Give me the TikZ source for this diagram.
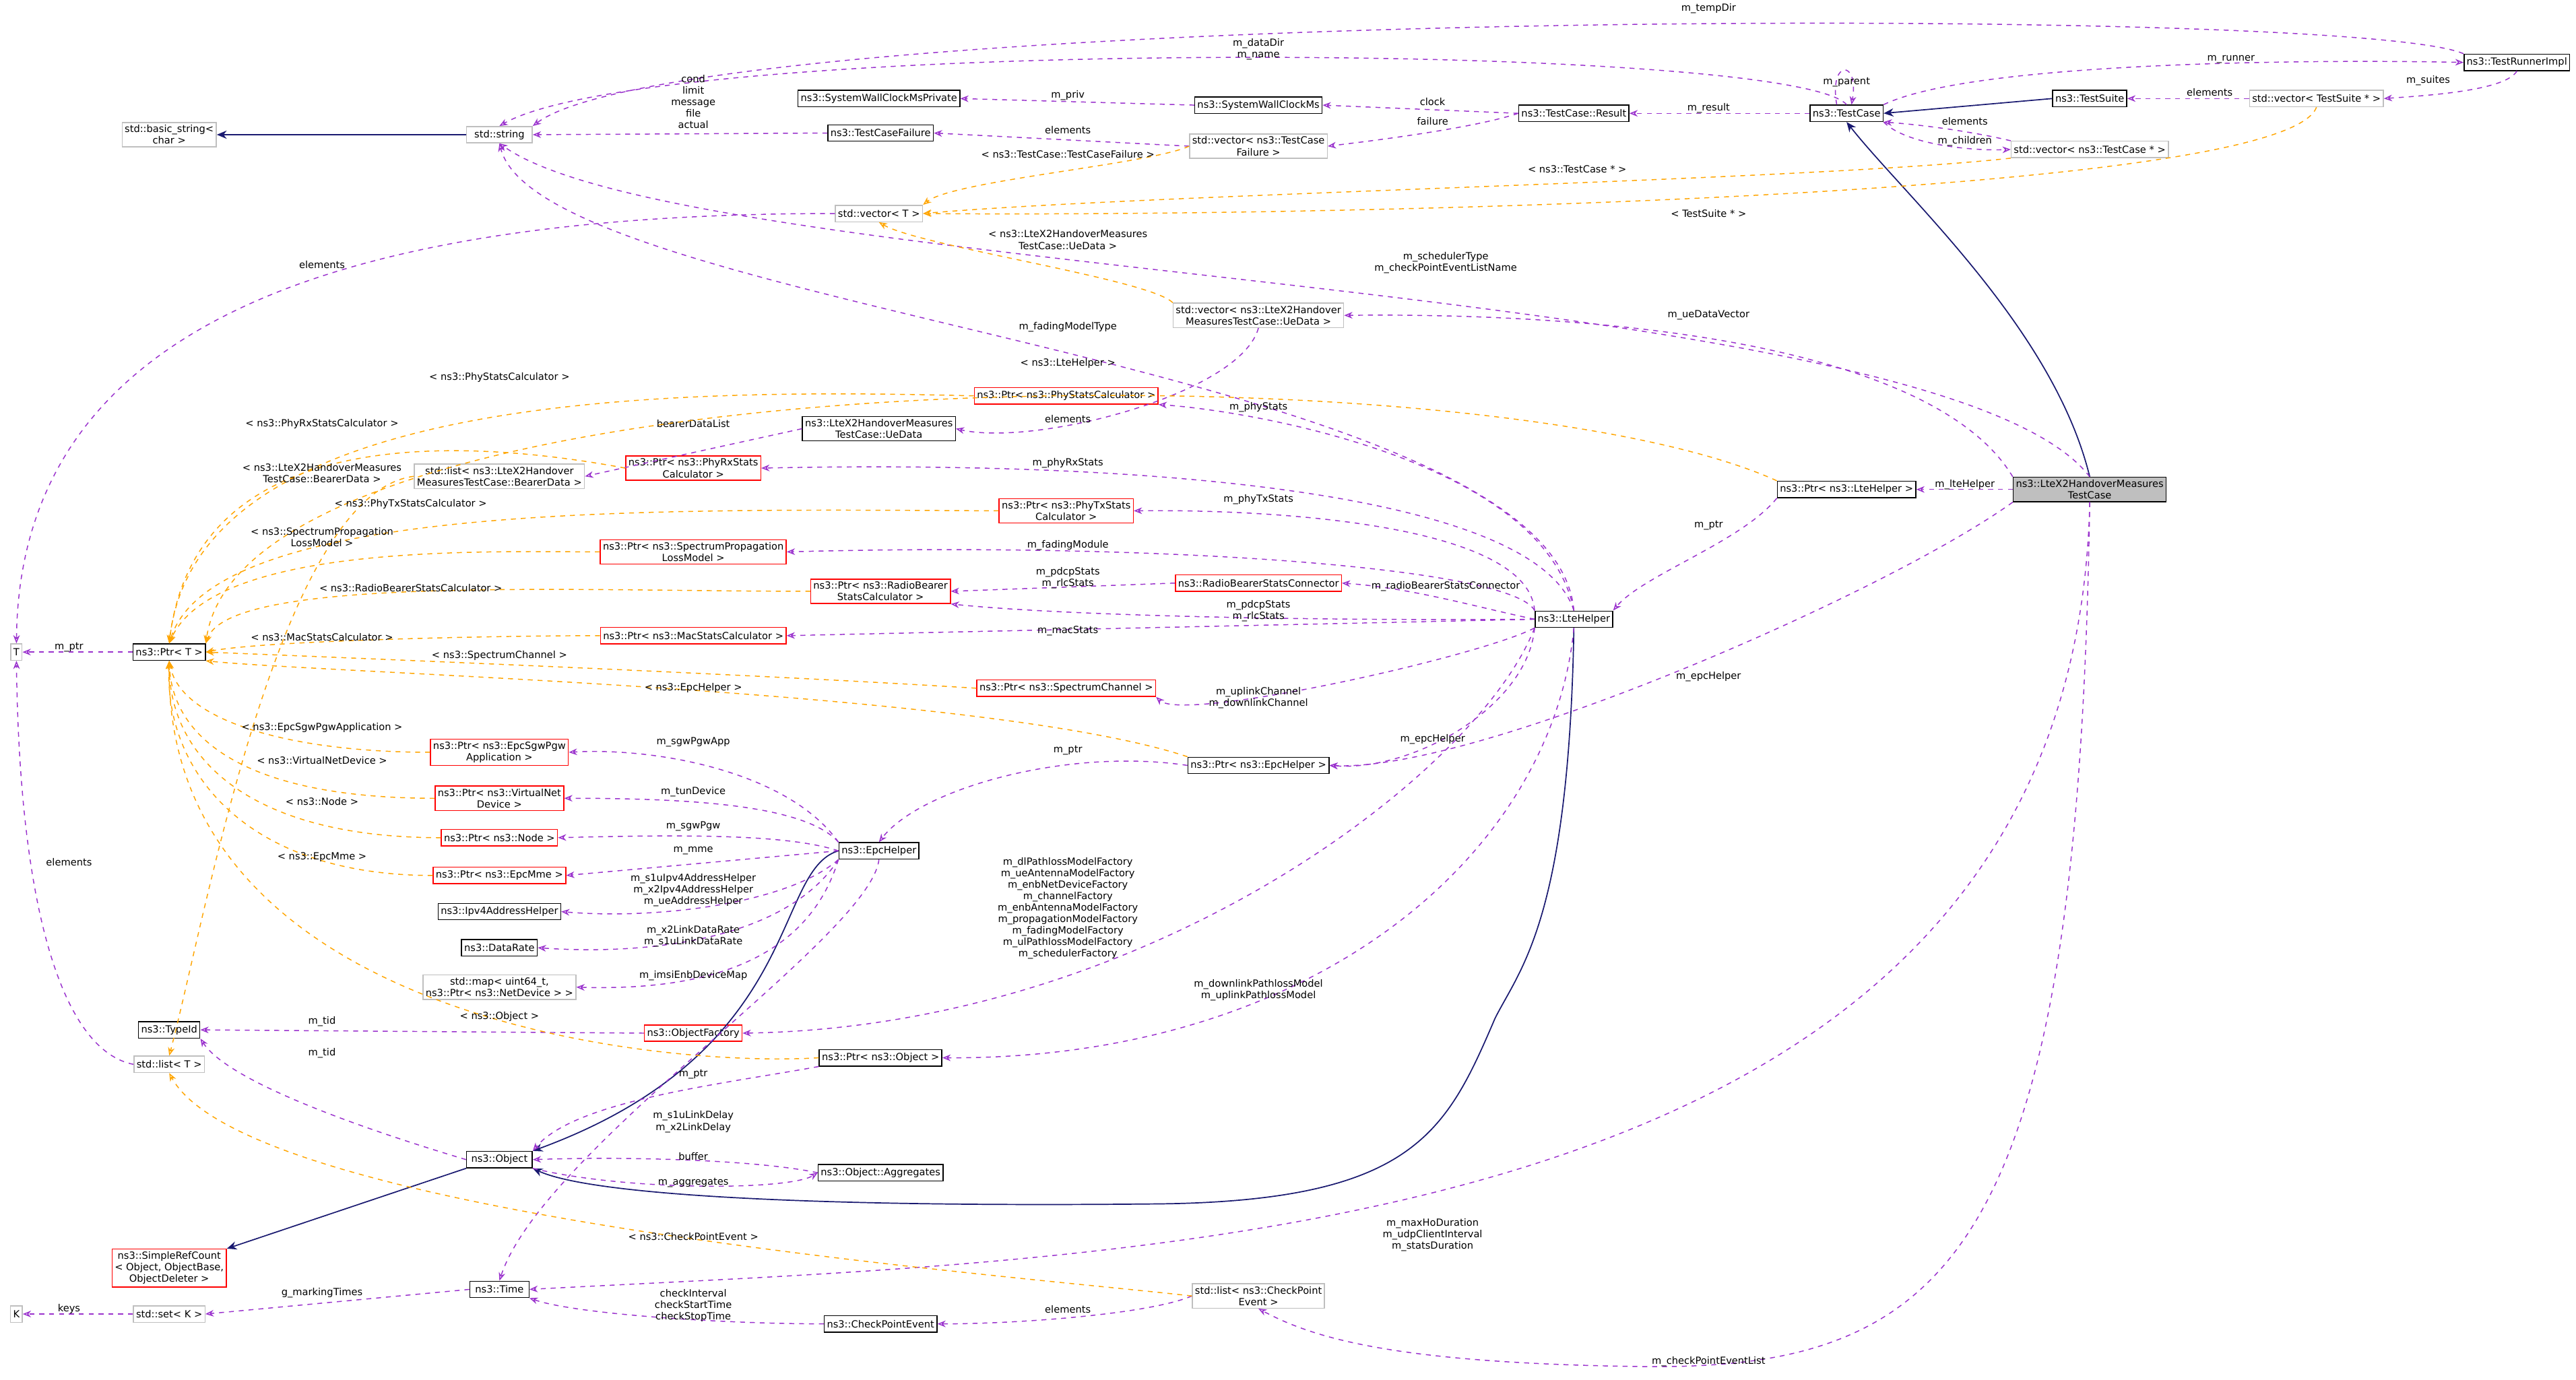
\documentclass[tikz,border=0pt]{standalone}
\usepackage{fontspec}
\setmainfont{DejaVu Sans}
\usetikzlibrary{arrows.meta}
\definecolor{pur}{HTML}{9A32CD}
\definecolor{org}{HTML}{FFA500}
\definecolor{nav}{HTML}{191970}
\definecolor{gry}{HTML}{BFBFBF}
\tikzset{
 base/.style={draw,rectangle,inner sep=1.6pt,minimum height=10pt,fill=white,align=center,font=\fontsize{6}{7}\selectfont,line width=0.6pt},
 blk/.style={base,draw=black},
 red/.style={base,draw=red},
 gr/.style={base,draw=gry},
 mem/.style={draw=pur,dashed,line width=0.6pt,-{Stealth[open,length=5pt,width=4pt]}},
 tpl/.style={draw=org,dashed,line width=0.6pt,-{Stealth[open,length=5pt,width=4pt]}},
 inh/.style={draw=nav,line width=0.7pt,-{Stealth[length=6pt,width=5pt]}},
 lbl/.style={align=center,inner sep=0pt,font=\fontsize{6}{7}\selectfont},
}
\begin{document}
\begin{tikzpicture}[x=1pt,y=-1pt]
\useasboundingbox[fill=white] (0,0) rectangle (1568,840);
% nodes
\node[base,fill=gry] (test) at (1272,298) {ns3::LteX2HandoverMeasures\\TestCase};
\node[blk] (tri) at (1532,38) {ns3::TestRunnerImpl};
\node[blk] (suite) at (1272,60) {ns3::TestSuite};
\node[gr] (vts) at (1410,60) {std::vector< TestSuite * >};
\node[blk] (tc) at (1124,69) {ns3::TestCase};
\node[gr] (vtc) at (1272,91) {std::vector< ns3::TestCase * >};
\node[blk] (res) at (958,69) {ns3::TestCase::Result};
\node[blk] (swc) at (766,64) {ns3::SystemWallClockMs};
\node[blk] (swcp) at (535,60) {ns3::SystemWallClockMsPrivate};
\node[gr] (vf) at (766,89) {std::vector< ns3::TestCase\\Failure >};
\node[blk] (tcf) at (536,81) {ns3::TestCaseFailure};
\node[gr,minimum width=40pt] (str) at (304,82) {std::string};
\node[gr] (bstr) at (103,82) {std::basic\_string<\\char >};
\node[gr] (vt) at (535,130) {std::vector< T >};
\node[gr] (vue) at (766,192) {std::vector< ns3::LteX2Handover\\MeasuresTestCase::UeData >};
\node[blk] (ue) at (535,261) {ns3::LteX2HandoverMeasures\\TestCase::UeData};
\node[gr] (lbd) at (304,290) {std::list< ns3::LteX2Handover\\MeasuresTestCase::BearerData >};
\node[red] (pps) at (649,241) {ns3::Ptr< ns3::PhyStatsCalculator >};
\node[red] (prx) at (422,285) {ns3::Ptr< ns3::PhyRxStats\\Calculator >};
\node[red] (ptx) at (649,311) {ns3::Ptr< ns3::PhyTxStats\\Calculator >};
\node[red] (psp) at (422,336) {ns3::Ptr< ns3::SpectrumPropagation\\LossModel >};
\node[red] (prb) at (536,360) {ns3::Ptr< ns3::RadioBearer\\StatsCalculator >};
\node[red] (rbsc) at (766,355) {ns3::RadioBearerStatsConnector};
\node[red] (pmac) at (422,387) {ns3::Ptr< ns3::MacStatsCalculator >};
\node[red] (psc) at (649,419) {ns3::Ptr< ns3::SpectrumChannel >};
\node[blk] (lte) at (958,377) {ns3::LteHelper};
\node[blk] (plte) at (1124,298) {ns3::Ptr< ns3::LteHelper >};
\node[blk] (pepc) at (766,466) {ns3::Ptr< ns3::EpcHelper >};
\node[blk] (epc) at (535,518) {ns3::EpcHelper};
\node[red] (psgw) at (304,458) {ns3::Ptr< ns3::EpcSgwPgw\\Application >};
\node[red] (pvnd) at (304,486) {ns3::Ptr< ns3::VirtualNet\\Device >};
\node[red] (pnode) at (304,510) {ns3::Ptr< ns3::Node >};
\node[red] (pmme) at (304,533) {ns3::Ptr< ns3::EpcMme >};
\node[blk] (ipv4) at (304,555) {ns3::Ipv4AddressHelper};
\node[blk] (dr) at (304,577) {ns3::DataRate};
\node[gr] (mapnd) at (304,601) {std::map< uint64\_t,\\ ns3::Ptr< ns3::NetDevice > >};
\node[red] (of) at (422,629) {ns3::ObjectFactory};
\node[blk] (tid) at (103,627) {ns3::TypeId};
\node[gr] (lt) at (103,648) {std::list< T >};
\node[blk] (pobj) at (536,644) {ns3::Ptr< ns3::Object >};
\node[blk,minimum width=40pt] (obj) at (304,706) {ns3::Object};
\node[blk] (agg) at (536,714) {ns3::Object::Aggregates};
\node[red] (src) at (103,772) {ns3::SimpleRefCount\\< Object, ObjectBase,\\ObjectDeleter >};
\node[blk,minimum width=36pt] (time) at (304,785) {ns3::Time};
\node[gr] (setk) at (103,800) {std::set< K >};
\node[gr] (k) at (10,800) {K};
\node[blk] (cpe) at (536,806) {ns3::CheckPointEvent};
\node[gr] (lcpe) at (766,789) {std::list< ns3::CheckPoint\\Event >};
\node[gr] (t) at (10,397) {T};
\node[blk] (pt) at (103,397) {ns3::Ptr< T >};
% inheritance
\draw[inh] (str) -- (bstr);
\draw[inh] (suite.west) -- (tc.east);
\draw[inh] (test.north) .. controls (1250,200) and (1160,120) .. (tc.south);
\draw[inh] (lte.south) .. controls (955,560) and (925,590) .. (910,620) .. controls (880,690) and (860,732) .. (700,733) .. controls (500,735) and (360,728) .. (obj.south east);
\draw[inh] (epc.west) .. controls (470,530) and (490,640) .. (obj.north east);
\draw[inh] (obj.south west) -- (src.north east);
% members
\draw[mem] (tri.north west) .. controls (1430,2) and (420,5) .. (str.north east);
\node[lbl] (l1) at (1040,5) {m\_tempDir};
\draw[mem] (tc.north) .. controls (1090,25) and (400,22) .. (str.north);
\node[lbl] (l2) at (766,30) {m\_dataDir\\m\_name};
\draw[mem] (tc.north east) .. controls (1200,38) and (1400,36) .. (tri.west);
\node[lbl] (l3) at (1358,36) {m\_runner};
\draw[mem] ([xshift=-6pt]tc.north) to[out=100,in=80,looseness=8] ([xshift=3pt]tc.north);
\node[lbl] (l4) at (1124,50) {m\_parent};
\draw[mem] (tri.south) .. controls (1525,55) and (1480,58) .. (vts.east);
\node[lbl] (l5) at (1478,49) {m\_suites};
\draw[mem] (vts.west) -- (suite.east);
\node[lbl] (l6) at (1345,56) {elements};
\draw[mem] (tc.west) -- (res.east);
\node[lbl] (l7) at (1040,66) {m\_result};
\draw[mem] (res.west) -- (swc.east);
\node[lbl] (l8) at (872,62) {clock};
\draw[mem] (res.west) .. controls (900,77) and (850,84) .. (vf.east);
\node[lbl] (l9) at (872,74) {failure};
\draw[mem] (swc.west) -- (swcp.east);
\node[lbl] (l10) at (650,58) {m\_priv};
\draw[mem] (vf.west) -- (tcf.east);
\node[lbl] (l11) at (650,79) {elements};
\draw[mem] (tcf.west) -- (str.east);
\node[lbl] (l12) at (422,62) {cond\\limit\\message\\file\\actual};
\draw[mem] (tc.south east) .. controls (1160,88) and (1200,92) .. (vtc.west);
\node[lbl] (l13) at (1196,86) {m\_children};
\draw[mem] (vtc.north west) .. controls (1200,80) and (1170,76) .. (tc.south east);
\node[lbl] (l14) at (1196,74) {elements};
\draw[mem] (vt.west) .. controls (200,130) and (12,200) .. (t.north);
\node[lbl] (l15) at (196,161) {elements};
\draw[mem] (test.north) .. controls (1180,170) and (420,170) .. (str.south);
\node[lbl] (l16) at (880,160) {m\_schedulerType\\m\_checkPointEventListName};
\draw[mem] (test.north west) .. controls (1180,215) and (1000,190) .. (vue.east);
\node[lbl] (l17) at (1040,192) {m\_ueDataVector};
\draw[mem] (vue.south) .. controls (755,240) and (630,272) .. (ue.east);
\node[lbl] (l18) at (650,255) {elements};
\draw[mem] (ue.west) -- (lbd.east);
\node[lbl] (l19) at (422,258) {bearerDataList};
\draw[mem] (lte.north) .. controls (945,220) and (330,190) .. (str.south);
\node[lbl] (l20) at (650,199) {m\_fadingModelType};
\draw[mem] (lte.north) .. controls (940,280) and (760,250) .. (pps.south east);
\node[lbl] (l21) at (766,248) {m\_phyStats};
\draw[mem] (lte.north) .. controls (935,300) and (700,280) .. (prx.east);
\node[lbl] (l22) at (650,282) {m\_phyRxStats};
\draw[mem] (lte.north west) .. controls (930,320) and (780,310) .. (ptx.east);
\node[lbl] (l23) at (766,304) {m\_phyTxStats};
\draw[mem] (lte.north west) .. controls (920,345) and (700,330) .. (psp.east);
\node[lbl] (l24) at (650,332) {m\_fadingModule};
\draw[mem] (rbsc.west) -- (prb.east);
\node[lbl] (l25) at (650,352) {m\_pdcpStats\\m\_rlcStats};
\draw[mem] (lte.west) .. controls (900,370) and (860,358) .. (rbsc.east);
\node[lbl] (l26) at (880,357) {m\_radioBearerStatsConnector};
\draw[mem] (lte.west) .. controls (800,378) and (650,375) .. (prb.south east);
\node[lbl] (l27) at (766,372) {m\_pdcpStats\\m\_rlcStats};
\draw[mem] (lte.west) -- (pmac.east);
\node[lbl] (l28) at (650,384) {m\_macStats};
\draw[mem] (lte.south west) .. controls (900,400) and (720,440) .. (psc.south east);
\node[lbl] (l29) at (766,425) {m\_uplinkChannel\\m\_downlinkChannel};
\draw[mem] (lte.south west) .. controls (930,430) and (860,470) .. (pepc.east);
\node[lbl] (l30) at (872,450) {m\_epcHelper};
\draw[mem] (test.south west) .. controls (1150,360) and (900,470) .. (pepc.east);
\node[lbl] (l31) at (1040,412) {m\_epcHelper};
\draw[mem] (test.west) -- (plte.east);
\node[lbl] (l32) at (1196,295) {m\_lteHelper};
\draw[mem] (plte.south west) .. controls (1060,330) and (1000,350) .. (lte.north east);
\node[lbl] (l33) at (1040,320) {m\_ptr};
\draw[mem] (pepc.west) .. controls (650,455) and (560,480) .. (epc.north);
\node[lbl] (l34) at (650,457) {m\_ptr};
\draw[mem] (epc.north west) .. controls (480,470) and (400,455) .. (psgw.east);
\node[lbl] (l35) at (422,452) {m\_sgwPgwApp};
\draw[mem] (epc.north west) .. controls (490,490) and (420,486) .. (pvnd.east);
\node[lbl] (l36) at (422,482) {m\_tunDevice};
\draw[mem] (epc.west) .. controls (480,508) and (420,508) .. (pnode.east);
\node[lbl] (l37) at (422,503) {m\_sgwPgw};
\draw[mem] (epc.west) -- (pmme.east);
\node[lbl] (l38) at (422,518) {m\_mme};
\draw[mem] (epc.south west) .. controls (480,550) and (400,560) .. (ipv4.east);
\node[lbl] (l39) at (422,542) {m\_s1uIpv4AddressHelper\\m\_x2Ipv4AddressHelper\\m\_ueAddressHelper};
\draw[mem] (epc.south west) .. controls (480,570) and (400,582) .. (dr.east);
\node[lbl] (l40) at (422,570) {m\_x2LinkDataRate\\m\_s1uLinkDataRate};
\draw[mem] (epc.south west) .. controls (490,590) and (420,603) .. (mapnd.east);
\node[lbl] (l41) at (422,594) {m\_imsiEnbDeviceMap};
\draw[mem] (lte.south west) .. controls (900,470) and (700,625) .. (of.east);
\node[lbl] (l42) at (650,553) {m\_dlPathlossModelFactory\\m\_ueAntennaModelFactory\\m\_enbNetDeviceFactory\\m\_channelFactory\\m\_enbAntennaModelFactory\\m\_propagationModelFactory\\m\_fadingModelFactory\\m\_ulPathlossModelFactory\\m\_schedulerFactory};
\draw[mem] (lte.south) .. controls (945,520) and (800,645) .. (pobj.east);
\node[lbl] (l43) at (766,603) {m\_downlinkPathlossModel\\m\_uplinkPathlossModel};
\draw[mem] (of.west) -- (tid.east);
\node[lbl] (l44) at (196,622) {m\_tid};
\draw[mem] (obj.west) .. controls (230,690) and (140,660) .. (tid.south east);
\node[lbl] (l45) at (196,641) {m\_tid};
\draw[mem] (pobj.south west) .. controls (440,660) and (350,670) .. (obj.north east);
\node[lbl] (l46) at (422,654) {m\_ptr};
\draw[mem] (epc.south) .. controls (530,570) and (330,700) .. (time.north);
\node[lbl] (l47) at (422,683) {m\_s1uLinkDelay\\m\_x2LinkDelay};
\draw[mem] (obj.south east) .. controls (380,725) and (480,725) .. (agg.west);
\node[lbl] (l48) at (422,720) {m\_aggregates};
\draw[mem] (agg.west) .. controls (460,706) and (380,704) .. (obj.east);
\node[lbl] (l49) at (422,704) {buffer};
\draw[mem] (time.west) -- (setk.east);
\node[lbl] (l50) at (196,787) {g\_markingTimes};
\draw[mem] (setk.west) -- (k.east);
\node[lbl] (l51) at (42,797) {keys};
\draw[mem] (cpe.west) .. controls (440,806) and (350,800) .. (time.south east);
\node[lbl] (l52) at (422,795) {checkInterval\\checkStartTime\\checkStopTime};
\draw[mem] (lcpe.west) .. controls (700,800) and (620,806) .. (cpe.east);
\node[lbl] (l53) at (650,797) {elements};
\draw[mem] (test.south) .. controls (1262,760) and (700,765) .. (time.east);
\node[lbl] (l54) at (872,752) {m\_maxHoDuration\\m\_udpClientInterval\\m\_statsDuration};
\draw[mem] (test.south) .. controls (1265,760) and (1190,834) .. (1000,832) .. controls (850,830) and (800,815) .. (lcpe.south);
\node[lbl] (l55) at (1040,829) {m\_checkPointEventList};
\draw[mem] (lt.west) .. controls (40,640) and (12,560) .. (t.south);
\node[lbl] (l56) at (42,525) {elements};
\draw[mem] (pt.west) -- (t.east);
\node[lbl] (l57) at (42,394) {m\_ptr};
% templates
\draw[tpl] (vf.west) .. controls (700,100) and (580,110) .. (vt.north east);
\node[lbl] (m1) at (650,94) {< ns3::TestCase::TestCaseFailure >};
\draw[tpl] (vtc.south west) .. controls (1100,110) and (700,118) .. (vt.east);
\node[lbl] (m2) at (960,103) {< ns3::TestCase * >};
\draw[tpl] (vts.south) .. controls (1390,120) and (800,132) .. (vt.east);
\node[lbl] (m3) at (1040,130) {< TestSuite * >};
\draw[tpl] (vue.north west) .. controls (700,170) and (560,150) .. (vt.south);
\node[lbl] (m4) at (650,146) {< ns3::LteX2HandoverMeasures\\TestCase::UeData >};
\draw[tpl] (plte.north west) .. controls (900,210) and (150,215) .. (pt.north east);
\node[lbl] (m5) at (650,221) {< ns3::LteHelper >};
\draw[tpl] (pps.west) .. controls (400,236) and (120,240) .. (pt.north);
\node[lbl] (m6) at (304,230) {< ns3::PhyStatsCalculator >};
\draw[tpl] (prx.west) .. controls (300,270) and (120,250) .. (pt.north);
\node[lbl] (m7) at (196,258) {< ns3::PhyRxStatsCalculator >};
\draw[tpl] (lbd.west) .. controls (170,300) and (125,560) .. (lt.north);
\node[lbl] (m8) at (196,288) {< ns3::LteX2HandoverMeasures\\TestCase::BearerData >};
\draw[tpl] (ptx.west) .. controls (400,310) and (130,305) .. (pt.north);
\node[lbl] (m9) at (250,307) {< ns3::PhyTxStatsCalculator >};
\draw[tpl] (psp.west) .. controls (300,336) and (130,330) .. (pt.north);
\node[lbl] (m10) at (196,327) {< ns3::SpectrumPropagation\\LossModel >};
\draw[tpl] (prb.west) .. controls (350,360) and (140,350) .. (pt.north east);
\node[lbl] (m11) at (250,358) {< ns3::RadioBearerStatsCalculator >};
\draw[tpl] (pmac.west) .. controls (300,387) and (160,390) .. (pt.east);
\node[lbl] (m12) at (196,388) {< ns3::MacStatsCalculator >};
\draw[tpl] (psc.west) .. controls (450,410) and (200,400) .. (pt.east);
\node[lbl] (m13) at (304,399) {< ns3::SpectrumChannel >};
\draw[tpl] (pepc.north west) .. controls (600,420) and (200,410) .. (pt.south east);
\node[lbl] (m14) at (422,419) {< ns3::EpcHelper >};
\draw[tpl] (psgw.west) .. controls (180,458) and (110,440) .. (pt.south);
\node[lbl] (m15) at (196,443) {< ns3::EpcSgwPgwApplication >};
\draw[tpl] (pvnd.west) .. controls (150,486) and (105,450) .. (pt.south);
\node[lbl] (m16) at (196,463) {< ns3::VirtualNetDevice >};
\draw[tpl] (pnode.west) .. controls (150,510) and (103,460) .. (pt.south);
\node[lbl] (m17) at (196,488) {< ns3::Node >};
\draw[tpl] (pmme.west) .. controls (150,533) and (100,470) .. (pt.south);
\node[lbl] (m18) at (196,522) {< ns3::EpcMme >};
\draw[tpl] (pobj.west) .. controls (400,650) and (100,620) .. (pt.south);
\node[lbl] (m19) at (304,619) {< ns3::Object >};
\draw[tpl] (lcpe.west) .. controls (600,775) and (150,740) .. (lt.south);
\node[lbl] (m20) at (422,753) {< ns3::CheckPointEvent >};
\end{tikzpicture}
\end{document}
